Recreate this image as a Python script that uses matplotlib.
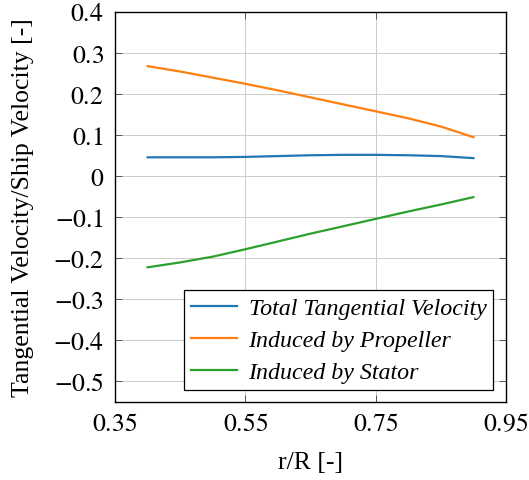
import numpy as np
import matplotlib.pyplot as plt

plt.rcParams['font.family'] = ['Liberation Serif', 'DejaVu Serif']
plt.rcParams['mathtext.fontset'] = 'stix'

# --- Data ---
r_R = [0.40, 0.45, 0.50, 0.55, 0.60, 0.65, 0.70, 0.75, 0.80, 0.85, 0.90]
total = [0.046, 0.046, 0.046, 0.047, 0.049, 0.051, 0.052, 0.052, 0.051, 0.049, 0.044]
propeller = [0.268, 0.255, 0.240, 0.225, 0.209, 0.192, 0.175, 0.158, 0.141, 0.121, 0.095]
stator = [-0.222, -0.210, -0.196, -0.178, -0.159, -0.140, -0.122, -0.104, -0.086, -0.069, -0.051]

labels = ["Total Tangential Velocity", "Induced by Propeller", "Induced by Stator"]
colors = ['#1f77b4', '#ff7f0e', '#2ca02c']
xticks = [0.35, 0.55, 0.75, 0.95]
yticks = np.round(np.arange(-0.5, 0.41, 0.1), 1)

# --- Plot ---
fig = plt.figure(figsize=(5.29, 4.81), dpi=100)
ax = fig.add_axes([0.2174, 0.1622, 0.7391, 0.8108])

for series, lab, col in zip([total, propeller, stator], labels, colors):
    ax.plot(r_R, series, color=col, lw=1.6, label=lab)

ax.set_xlim(0.35, 0.95)
ax.set_ylim(-0.55, 0.4)
ax.set_xticks(xticks)
ax.set_xticklabels([f"${t:.2f}$" for t in xticks])
ax.set_yticks(yticks)
ax.set_yticklabels([("$0$" if t == 0 else f"${t:.1f}$") for t in yticks])
ax.tick_params(direction='in', top=True, right=True, labelsize=18.5,
               length=5, width=0.7, color='#555555', pad=8)
ax.grid(True, color='#cccccc', lw=0.7)
ax.set_axisbelow(True)
for s in ax.spines.values():
    s.set_linewidth(1.0)

ax.set_xlabel("r/R [-]", fontsize=18.5)
ax.set_ylabel("Tangential Velocity/Ship Velocity [-]", fontsize=18.5)
ax.xaxis.set_label_coords(0.5, -0.125)
ax.yaxis.set_label_coords(-0.207, 0.5)

leg = ax.legend(loc='lower right', bbox_to_anchor=(0.968, 0.03),
                prop={'style': 'italic', 'size': 17.3}, fancybox=False,
                edgecolor='black', framealpha=1, handlelength=1.9,
                borderpad=0.3, labelspacing=0.42, handletextpad=0.5,
                borderaxespad=0.0)
leg.get_frame().set_linewidth(0.9)

fig.savefig("out.png", dpi=100)
